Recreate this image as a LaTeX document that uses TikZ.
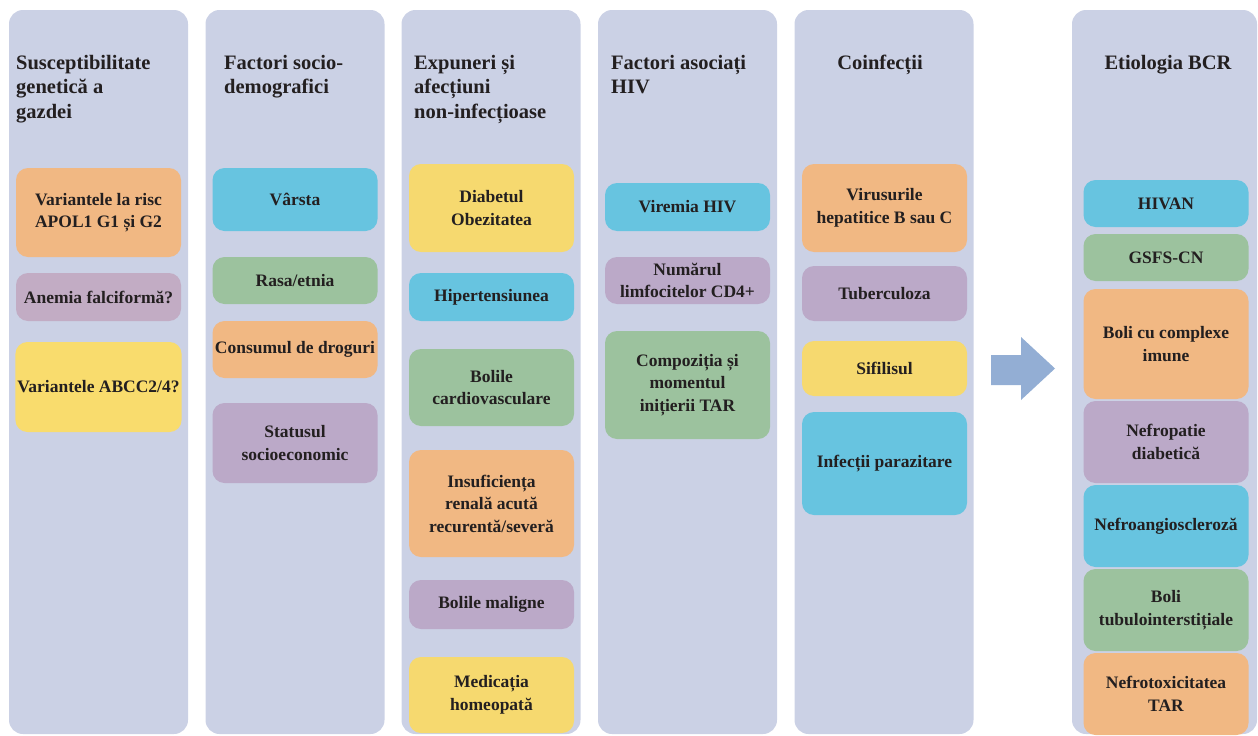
\documentclass[tikz,border=0pt]{standalone}
\usepackage{fontspec}
\setmainfont{Liberation Serif}
\begin{document}
\definecolor{colbg}{HTML}{CBD1E5}
\definecolor{corange}{HTML}{F1B883}
\definecolor{cblue}{HTML}{67C4E0}
\definecolor{cmauve}{HTML}{BBA9C8}
\definecolor{cpink}{HTML}{C2ACC4}
\definecolor{cgreen}{HTML}{9CC29E}
\definecolor{cyellow}{HTML}{F6D96F}
\definecolor{cyellowb}{HTML}{F9DC6D}
\definecolor{ink}{HTML}{231F20}
\definecolor{arrowc}{HTML}{93AED4}
\begin{tikzpicture}[x=1pt,y=-1pt,
  column/.style={fill=colbg, draw=none, rounded corners=14pt, minimum width=179pt, minimum height=724pt, inner sep=0pt},
  cell/.style={draw=none, rounded corners=12pt, minimum width=165pt, inner sep=2pt, align=center,
    text=ink, font=\bfseries\fontsize{17.5}{22.5}\selectfont},
  heading/.style={anchor=north west, inner sep=0pt, align=left, text=ink,
    font=\bfseries\fontsize{20.5}{24.5}\selectfont},
  headingc/.style={anchor=north, inner sep=0pt, align=center, text=ink,
    font=\bfseries\fontsize{20.5}{24.5}\selectfont}]
\useasboundingbox (0,0) rectangle (1258,736);

% one rounded box: name, centre x, top y, bottom y, colour, text
\newcommand{\cellbox}[6]{%
  \node[cell, fill=#5, minimum height={(#4-#3)*1pt}] (#1) at (#2,{(#3+#4)/2}) {#6};}

% column backgrounds
\node[column] (c1) at (98.5,372) {};
\node[column] (c2) at (295,372) {};
\node[column] (c3) at (491,372) {};
\node[column] (c4) at (687.5,372) {};
\node[column] (c5) at (884,372) {};
\node[column, minimum width=185pt] (c6) at (1164.5,372) {};

% column headings
\node[heading] (h1) at (16,55) {Susceptibilitate\\genetică a\\gazdei};
\node[heading] (h2) at (224,55) {Factori socio-\\demografici};
\node[heading] (h3) at (414,55) {Expuneri și\\afecțiuni\\non-infecțioase};
\node[heading] (h4) at (611,55) {Factori asociați\\HIV};
\node[headingc] (h5) at (880,55) {Coinfecții};
\node[headingc] (h6) at (1168,55) {Etiologia BCR};

% host genetic susceptibility
\cellbox{a1}{98.5}{168}{257}{corange}{Variantele la risc\\APOL1 G1 și G2}
\cellbox{a2}{98.5}{273}{321}{cpink}{Anemia falciformă?}
\cellbox{a3}{98.5}{342}{432}{cyellowb}{Variantele ABCC2/4?}

% socio-demographic factors
\cellbox{b1}{295}{168}{231}{cblue}{Vârsta}
\cellbox{b2}{295}{257}{304}{cgreen}{Rasa/etnia}
\cellbox{b3}{295}{321}{378}{corange}{Consumul de droguri}
\cellbox{b4}{295}{403}{483}{cmauve}{Statusul\\socioeconomic}

% non-infectious exposures
\cellbox{d1}{491.5}{164}{252}{cyellow}{Diabetul\\Obezitatea}
\cellbox{d2}{491.5}{273}{321}{cblue}{Hipertensiunea}
\cellbox{d3}{491.5}{349}{426}{cgreen}{Bolile\\cardiovasculare}
\cellbox{d4}{491.5}{450}{557}{corange}{Insuficiența\\renală acută\\recurentă/severă}
\cellbox{d5}{491.5}{580}{629}{cmauve}{Bolile maligne}
\cellbox{d6}{491.5}{657}{733}{cyellow}{Medicația\\homeopată}

% HIV-related factors
\cellbox{e1}{687.5}{183}{231}{cblue}{Viremia HIV}
\cellbox{e2}{687.5}{257}{304}{cmauve}{Numărul\\limfocitelor CD4+}
\cellbox{e3}{687.5}{331}{439}{cgreen}{Compoziția și\\momentul\\inițierii TAR}

% coinfections
\cellbox{f1}{884.5}{164}{252}{corange}{Virusurile\\hepatitice B sau C}
\cellbox{f2}{884.5}{266}{321}{cmauve}{Tuberculoza}
\cellbox{f3}{884.5}{341}{396}{cyellow}{Sifilisul}
\cellbox{f4}{884.5}{412}{515}{cblue}{Infecții parazitare}

% aetiology
\cellbox{g1}{1166}{180}{227}{cblue}{HIVAN}
\cellbox{g2}{1166}{234}{281}{cgreen}{GSFS-CN}
\cellbox{g3}{1166}{289}{399}{corange}{Boli cu complexe\\imune}
\cellbox{g4}{1166}{401}{483}{cmauve}{Nefropatie\\diabetică}
\cellbox{g5}{1166}{485}{567}{cblue}{Nefroangioscleroză}
\cellbox{g6}{1166}{569}{651}{cgreen}{Boli\\tubulointerstițiale}
\cellbox{g7}{1166}{653}{735}{corange}{Nefrotoxicitatea\\TAR}

% block arrow between the factor columns and the aetiology column
\fill[arrowc] (991,355) -- (1021,355) -- (1021,337) -- (1055,368.5)
  -- (1021,400) -- (1021,385) -- (991,385) -- cycle;
\end{tikzpicture}
\end{document}
